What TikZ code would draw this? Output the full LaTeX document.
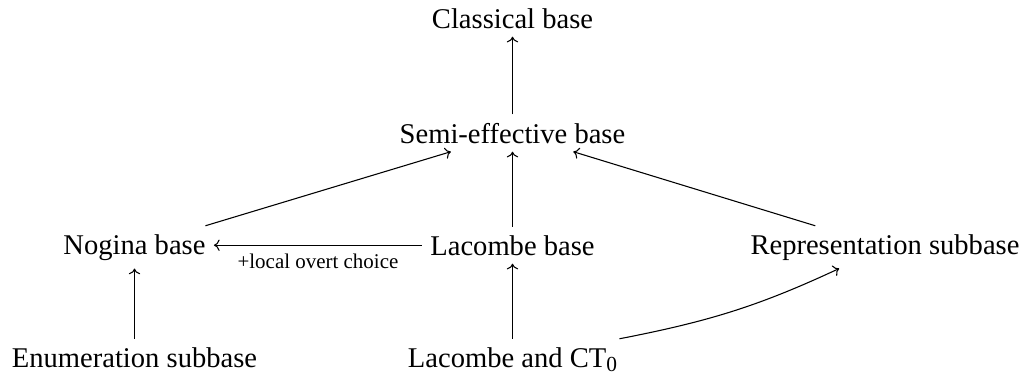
\documentclass[tikz,border=0pt]{standalone}
\usepackage{fontspec}
\setmainfont{Liberation Serif}
\usetikzlibrary{arrows.meta}
\begin{document}
\begin{tikzpicture}[x=0.42pt,y=-0.42pt,
  every node/.style={font=\fontsize{12}{14}\selectfont},
  lbl/.style={font=\fontsize{8.8}{10}\selectfont},
  arr/.style={-{To[length=2.4pt,width=4.8pt]},line width=0.45pt}]
\useasboundingbox (0,0) rectangle (1032,376);
\node[anchor=base] (cls) at (512.5,28) {Classical base};
\node[anchor=base] (semi) at (512.5,143) {Semi-effective base};
\node[anchor=base] (nog) at (134.5,254) {Nogina base};
\node[anchor=base] (lac) at (512.5,255) {Lacombe base};
\node[anchor=base] (rep) at (885,254) {Representation subbase};
\node[anchor=base] (enu) at (134.5,367) {Enumeration subbase};
\node[anchor=base] (ct) at (512.5,367) {Lacombe and CT\raisebox{-2pt}{\fontsize{9}{10}\selectfont 0}};
\draw[arr] (semi) -- (cls);
\draw[arr] (lac) -- (semi);
\draw[arr] (nog) -- (semi);
\draw[arr] (rep) -- (semi);
\draw[arr] (lac.west) -- (lac.west -| nog.east) node[midway,below,lbl] {+local overt choice};
\draw[arr] (enu) -- (nog);
\draw[arr] (ct.north -| lac) -- (lac);
\draw[arr] (ct) to[out=11,in=205] (rep);
\end{tikzpicture}
\end{document}
